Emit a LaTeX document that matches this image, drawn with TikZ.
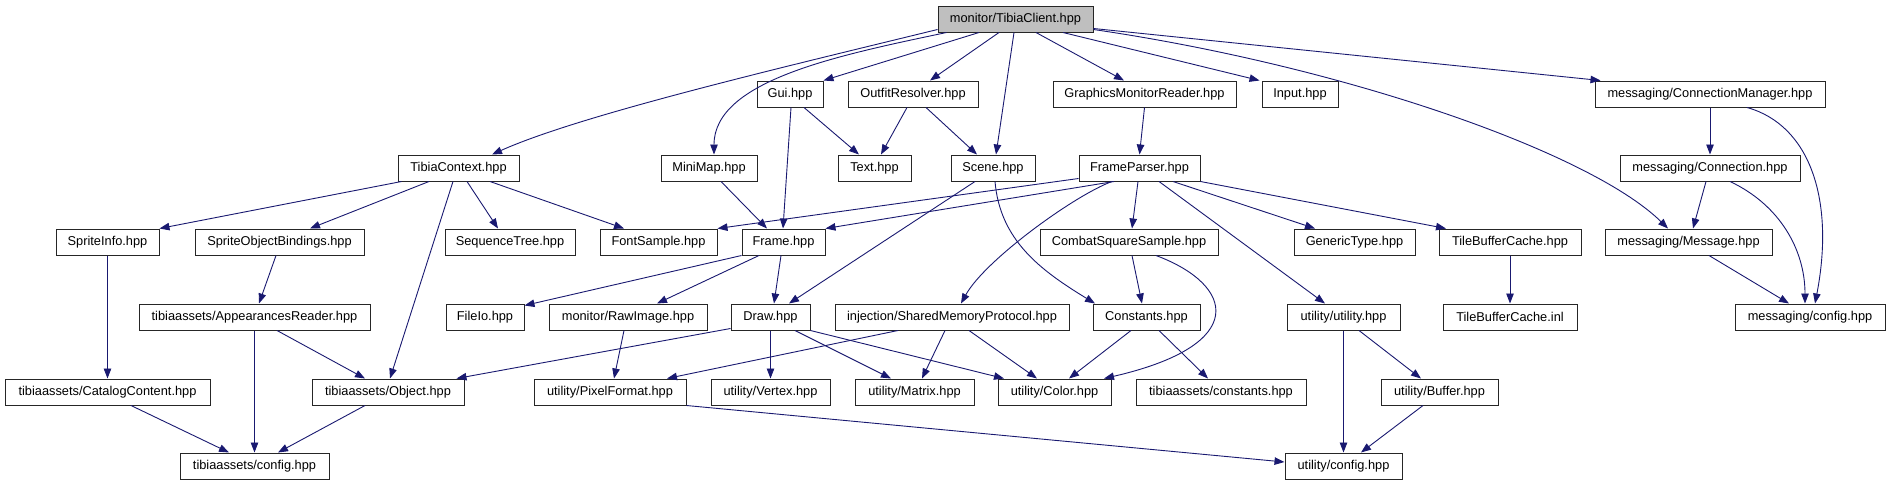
\documentclass[tikz,border=0pt]{standalone}
\usepackage{fontspec}
\setmainfont{Liberation Sans}
\usetikzlibrary{arrows.meta}
\definecolor{midblue}{HTML}{191970}
\definecolor{rootgray}{HTML}{BFBFBF}
\tikzset{
  box/.style={draw=black!85, line width=1pt, fill=white, inner sep=0pt, minimum height=26pt, font=\fontsize{12.8}{15}\selectfont},
  edge/.style={draw=midblue, line width=0.9pt, -{Triangle[length=10pt,width=7.5pt,fill=midblue]}}
}
\begin{document}
\begin{tikzpicture}[x=1pt,y=-1pt]
\useasboundingbox (0,0) rectangle (1891,485);
% row 0
\node[box, fill=rootgray, minimum width=155pt] (root) at (1015.5,19) {monitor/TibiaClient.hpp};
% row 1
\node[box, minimum width=66pt] (gui) at (790,94) {Gui.hpp};
\node[box, minimum width=130pt] (outfit) at (913,94) {OutfitResolver.hpp};
\node[box, minimum width=183pt] (gmr) at (1144.5,94) {GraphicsMonitorReader.hpp};
\node[box, minimum width=76pt] (input) at (1300,94) {Input.hpp};
\node[box, minimum width=230pt] (connmgr) at (1710,94) {messaging/ConnectionManager.hpp};
% row 2
\node[box, minimum width=121pt] (tctx) at (458.5,168) {TibiaContext.hpp};
\node[box, minimum width=96pt] (minimap) at (709,168) {MiniMap.hpp};
\node[box, minimum width=73pt] (text) at (874.5,168) {Text.hpp};
\node[box, minimum width=84pt] (scene) at (993,168) {Scene.hpp};
\node[box, minimum width=121pt] (fparser) at (1139.5,168) {FrameParser.hpp};
\node[box, minimum width=180pt] (conn) at (1710,168) {messaging/Connection.hpp};
% row 3
\node[box, minimum width=103pt] (sinfo) at (107.5,242) {SpriteInfo.hpp};
\node[box, minimum width=169pt] (sob) at (279.5,242) {SpriteObjectBindings.hpp};
\node[box, minimum width=130pt] (seqtree) at (510,242) {SequenceTree.hpp};
\node[box, minimum width=117pt] (fontsample) at (658.5,242) {FontSample.hpp};
\node[box, minimum width=83pt] (frame) at (783.5,242) {Frame.hpp};
\node[box, minimum width=178pt] (css) at (1129,242) {CombatSquareSample.hpp};
\node[box, minimum width=121pt] (gentype) at (1354.5,242) {GenericType.hpp};
\node[box, minimum width=142pt] (tbc) at (1510,242) {TileBufferCache.hpp};
\node[box, minimum width=167pt] (message) at (1688.5,242) {messaging/Message.hpp};
% row 4
\node[box, minimum width=231pt] (appr) at (254.5,317) {tibiaassets/AppearancesReader.hpp};
\node[box, minimum width=78pt] (fileio) at (485,317) {FileIo.hpp};
\node[box, minimum width=158pt] (rawimg) at (628,317) {monitor/RawImage.hpp};
\node[box, minimum width=79pt] (draw) at (770.5,317) {Draw.hpp};
\node[box, minimum width=234pt] (smp) at (952,317) {injection/SharedMemoryProtocol.hpp};
\node[box, minimum width=107pt] (consts) at (1146.5,317) {Constants.hpp};
\node[box, minimum width=113pt] (uutil) at (1343.5,317) {utility/utility.hpp};
\node[box, minimum width=134pt] (tbcinl) at (1510,317) {TileBufferCache.inl};
\node[box, minimum width=150pt] (mconfig) at (1810,317) {messaging/config.hpp};
% row 5
\node[box, minimum width=205pt] (catalog) at (107.5,392) {tibiaassets/CatalogContent.hpp};
\node[box, minimum width=152pt] (object) at (388,392) {tibiaassets/Object.hpp};
\node[box, minimum width=152pt] (pixfmt) at (610,392) {utility/PixelFormat.hpp};
\node[box, minimum width=119pt] (vertex) at (770.5,392) {utility/Vertex.hpp};
\node[box, minimum width=119pt] (matrix) at (914.5,392) {utility/Matrix.hpp};
\node[box, minimum width=113pt] (color) at (1054.5,392) {utility/Color.hpp};
\node[box, minimum width=170pt] (tconsts) at (1221,392) {tibiaassets/constants.hpp};
\node[box, minimum width=117pt] (buffer) at (1439.5,392) {utility/Buffer.hpp};
% row 6
\node[box, minimum width=149pt] (tconfig) at (254.5,466) {tibiaassets/config.hpp};
\node[box, minimum width=117pt] (uconfig) at (1343.5,466) {utility/config.hpp};

% edges from root
\draw[edge] ([yshift=3pt]root.south west) .. controls (780,68) and (580,115) .. ([xshift=33.5pt]tctx.north);
\draw[edge] ([xshift=-69pt]root.south) .. controls (840,55) and (714,80) .. ([xshift=5pt]minimap.north);
\draw[edge] ([xshift=-36.5pt]root.south) -- (gui.north east);
\draw[edge] ([xshift=-16.5pt]root.south) -- ([xshift=17pt]outfit.north);
\draw[edge] ([xshift=-1.5pt]root.south) -- ([xshift=3pt]scene.north);
\draw[edge] ([xshift=20.5pt]root.south) -- ([xshift=-20.5pt]gmr.north);
\draw[edge] ([xshift=47.5pt]root.south) -- ([xshift=-2pt]input.north west);
\draw[edge] ([yshift=3pt]root.south east) .. controls (1343,66) and (1590,152) .. ([xshift=-20.5pt]message.north);
\draw[edge] ([yshift=4pt]root.south east) -- ([xshift=6pt]connmgr.north west);
% row 1 edges
\draw[edge] ([xshift=14pt]gui.south) -- ([xshift=-15.5pt]text.north);
\draw[edge] ([xshift=1pt]gui.south) -- ([xshift=-0.5pt]frame.north);
\draw[edge] ([xshift=-6pt]outfit.south) -- ([xshift=6.5pt]text.north);
\draw[edge] ([xshift=13pt]outfit.south) -- ([xshift=-16pt]scene.north);
\draw[edge] (gmr.south) -- (fparser.north);
\draw[edge] (connmgr.south) -- (conn.north);
\draw[edge] ([xshift=37pt]connmgr.south) .. controls (1810,125) and (1835,200) .. ([xshift=5pt]mconfig.north);
% row 2 edges
\draw[edge] ([xshift=12pt]minimap.south) -- ([xshift=-16.5pt]frame.north);
\draw[edge] ([xshift=-18pt]scene.south) -- ([xshift=18.5pt]draw.north);
\draw[edge] ([xshift=2pt]scene.south) .. controls (1000,240) and (1040,270) .. ([xshift=-51.5pt]consts.north);
\draw[edge] ([yshift=3pt]fparser.south west) -- (fontsample.north east);
\draw[edge] ([xshift=-25.5pt]fparser.south) -- (frame.north east);
\draw[edge] ([xshift=-27.5pt]fparser.south) .. controls (1075,195) and (985,260) .. ([xshift=9pt]smp.north);
\draw[edge] ([xshift=-1.5pt]fparser.south) -- ([xshift=3pt]css.north);
\draw[edge] ([xshift=19.5pt]fparser.south) -- ([xshift=-18.5pt]uutil.north);
\draw[edge] ([xshift=33.5pt]fparser.south) -- ([xshift=-39.5pt]gentype.north);
\draw[edge] (fparser.south east) -- ([xshift=-64pt]tbc.north);
\draw[edge] ([xshift=-4pt]conn.south) -- ([xshift=4.5pt]message.north);
\draw[edge] ([xshift=20pt]conn.south) .. controls (1780,205) and (1805,250) .. ([xshift=-5pt]mconfig.north);
\draw[edge] ([xshift=4pt]tctx.south west) -- (sinfo.north east);
\draw[edge] ([xshift=-29.5pt]tctx.south) -- ([xshift=30.5pt]sob.north);
\draw[edge] ([xshift=-5.5pt]tctx.south) -- ([xshift=2pt]object.north);
\draw[edge] ([xshift=8.5pt]tctx.south) -- ([xshift=-12pt]seqtree.north);
\draw[edge] ([xshift=31.5pt]tctx.south) -- ([xshift=-34.5pt]fontsample.north);
% row 3 edges
\draw[edge] ([xshift=20.5pt]message.south) -- ([xshift=-21pt]mconfig.north);
\draw[edge] (sinfo.south) -- (catalog.north);
\draw[edge] ([xshift=-3.5pt]sob.south) -- ([xshift=4.5pt]appr.north);
\draw[edge] (frame.south west) -- ([yshift=-2pt]fileio.north east);
\draw[edge] ([xshift=-24.5pt]frame.south) -- ([xshift=29pt]rawimg.north);
\draw[edge] ([xshift=-2.5pt]frame.south) -- ([xshift=3.5pt]draw.north);
\draw[edge] ([xshift=3pt]css.south) -- ([xshift=-4.5pt]consts.north);
\draw[edge] ([xshift=27pt]css.south) .. controls (1235,285) and (1250,345) .. ([xshift=49.5pt]color.north);
\draw[edge] (tbc.south) -- (tbcinl.north);
% row 4 edges
\draw[edge] (appr.south) -- (tconfig.north);
\draw[edge] ([xshift=22.5pt]appr.south) -- ([xshift=-23pt]object.north);
\draw[edge] ([xshift=-4pt]rawimg.south) -- ([xshift=4pt]pixfmt.north);
\draw[edge] ([yshift=2pt]draw.south west) -- ([xshift=-8pt]object.north east);
\draw[edge] (draw.south) -- (vertex.north);
\draw[edge] ([xshift=24.5pt]draw.south) -- ([xshift=-23.5pt]matrix.north);
\draw[edge] (draw.south east) -- ([xshift=-50.5pt]color.north);
\draw[edge] ([xshift=-54pt]smp.south) -- ([xshift=57pt]pixfmt.north);
\draw[edge] ([xshift=-7pt]smp.south) -- ([xshift=7.5pt]matrix.north);
\draw[edge] ([xshift=17pt]smp.south) -- ([xshift=-17.5pt]color.north);
\draw[edge] ([xshift=-15.5pt]consts.south) -- ([xshift=14.5pt]color.north);
\draw[edge] ([xshift=12.5pt]consts.south) -- ([xshift=-13pt]tconsts.north);
\draw[edge] (uutil.south) -- (uconfig.north);
\draw[edge] ([xshift=15.5pt]uutil.south) -- ([xshift=-18.5pt]buffer.north);
% row 5 edges
\draw[edge] ([xshift=23.5pt]catalog.south) -- ([xshift=-25.5pt]tconfig.north);
\draw[edge] ([xshift=-23pt]object.south) -- ([xshift=23.5pt]tconfig.north);
\draw[edge] (pixfmt.south east) -- ([yshift=4pt]uconfig.west);
\draw[edge] ([xshift=-16.5pt]buffer.south) -- ([xshift=17.5pt]uconfig.north);
\end{tikzpicture}
\end{document}
